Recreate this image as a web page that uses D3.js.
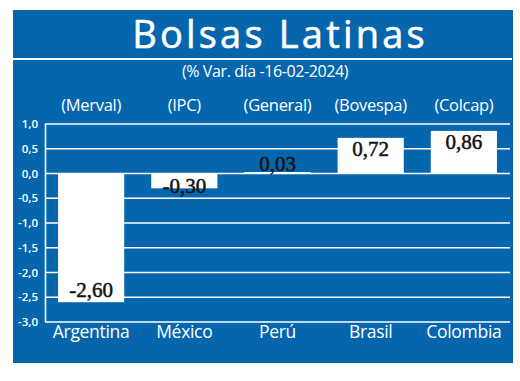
<!DOCTYPE html>
<html>
<head>
<meta charset="utf-8">
<script src="https://cdn.jsdelivr.net/npm/d3@7"></script>
<style>
  body { margin: 0; background: #fff; }
  text { font-family: 'Open Sans', sans-serif; }
  text.valor { font-family: 'Liberation Serif', serif; }
</style>
</head>
<body>
<svg id="chart" width="520" height="381"></svg>
<script>
// chart data
const paises = ['Argentina', 'México', 'Perú', 'Brasil', 'Colombia'];
const indices = ['(Merval)', '(IPC)', '(General)', '(Bovespa)', '(Colcap)'];
const variacion = [-2.60, -0.30, 0.03, 0.72, 0.86];
const yTicks = [1.0, 0.5, 0.0, -0.5, -1.0, -1.5, -2.0, -2.5, -3.0];

const titulo = 'Bolsas Latinas';
const subtitulo = '(% Var. día -16-02-2024)';

const azul = '#0566ae';
const svg = d3.select('#chart');

// background panel
svg.append('rect')
  .attr('x', 13).attr('y', 10)
  .attr('width', 500).attr('height', 353)
  .attr('fill', azul);

svg.append('text')
  .text(titulo)
  .attr('x', 280).attr('y', 48)
  .attr('text-anchor', 'middle')
  .attr('font-size', 38)
  .attr('letter-spacing', 3.2)
  .attr('fill', '#fff')
  .attr('stroke', '#fff')
  .attr('stroke-width', 0.6);

svg.append('line')
  .attr('x1', 13).attr('x2', 512)
  .attr('y1', 59).attr('y2', 59)
  .attr('stroke', '#fff').attr('stroke-width', 2);

svg.append('text')
  .text(subtitulo)
  .attr('x', 265).attr('y', 77)
  .attr('text-anchor', 'middle')
  .attr('font-size', 16)
  .attr('letter-spacing', -0.4)
  .attr('fill', '#fff');

let x = d3.scaleBand()
  .domain(paises)
  .range([45, 510])
  .paddingInner(0.29)
  .paddingOuter(0.14);

let y = d3.scaleLinear()
  .domain([-3, 1])
  .range([322, 124]);

let fmt = function(v) { return d3.format('.1f')(v).replace('.', ',').replace('−', '-'); };
let fmt2 = function(v) { return d3.format('.2f')(v).replace('.', ',').replace('−', '-'); };

// gridlines
svg.append('g').selectAll('line')
  .data(yTicks)
  .enter().append('line')
  .attr('x1', 45).attr('x2', 510)
  .attr('y1', d => y(d)).attr('y2', d => y(d))
  .attr('stroke', '#fff')
  .attr('stroke-width', 1.6);

// y axis line
svg.append('line')
  .attr('x1', 45.5).attr('x2', 45.5)
  .attr('y1', y(1)).attr('y2', y(-3))
  .attr('stroke', '#fff').attr('stroke-width', 1.6);

svg.append('g').selectAll('text')
  .data(yTicks)
  .enter().append('text')
  .text(d => fmt(d))
  .attr('x', 38)
  .attr('y', d => y(d))
  .attr('dy', '0.35em')
  .attr('text-anchor', 'end')
  .attr('font-size', 11.5)
  .attr('font-weight', 600)
  .attr('fill', '#fff');

// bars
svg.append('g').selectAll('rect')
  .data(variacion)
  .enter().append('rect')
  .attr('x', (d, i) => x(paises[i]))
  .attr('width', x.bandwidth())
  .attr('y', d => y(Math.max(0, d)))
  .attr('height', d => Math.abs(y(d) - y(0)))
  .attr('fill', '#fff');

// value labels
svg.append('g').selectAll('text')
  .data(variacion)
  .enter().append('text')
  .attr('class', 'valor')
  .text(d => fmt2(d))
  .attr('x', (d, i) => x(paises[i]) + x.bandwidth() / 2)
  .attr('y', function(d) {
    let h = Math.abs(y(d) - y(0));
    if (d >= 0) return h > 24 ? y(d) + 18 : y(d) - 1;
    return h > 24 ? y(d) - 5 : y(d) + 5;
  })
  .attr('text-anchor', 'middle')
  .attr('font-size', 21)
  .attr('fill', '#111')
  .attr('stroke', '#111')
  .attr('stroke-width', 0.5);

// index names above
svg.append('g').selectAll('text')
  .data(indices)
  .enter().append('text')
  .text(d => d)
  .attr('x', (d, i) => x(paises[i]) + x.bandwidth() / 2)
  .attr('y', 111)
  .attr('text-anchor', 'middle')
  .attr('font-size', 16.5)
  .attr('letter-spacing', -0.3)
  .attr('fill', '#fff');

// country names below
svg.append('g').selectAll('text')
  .data(paises)
  .enter().append('text')
  .text(d => d)
  .attr('x', d => x(d) + x.bandwidth() / 2)
  .attr('y', 338)
  .attr('text-anchor', 'middle')
  .attr('font-size', 17.5)
  .attr('letter-spacing', -0.3)
  .attr('fill', '#fff');
</script>
</body>
</html>
